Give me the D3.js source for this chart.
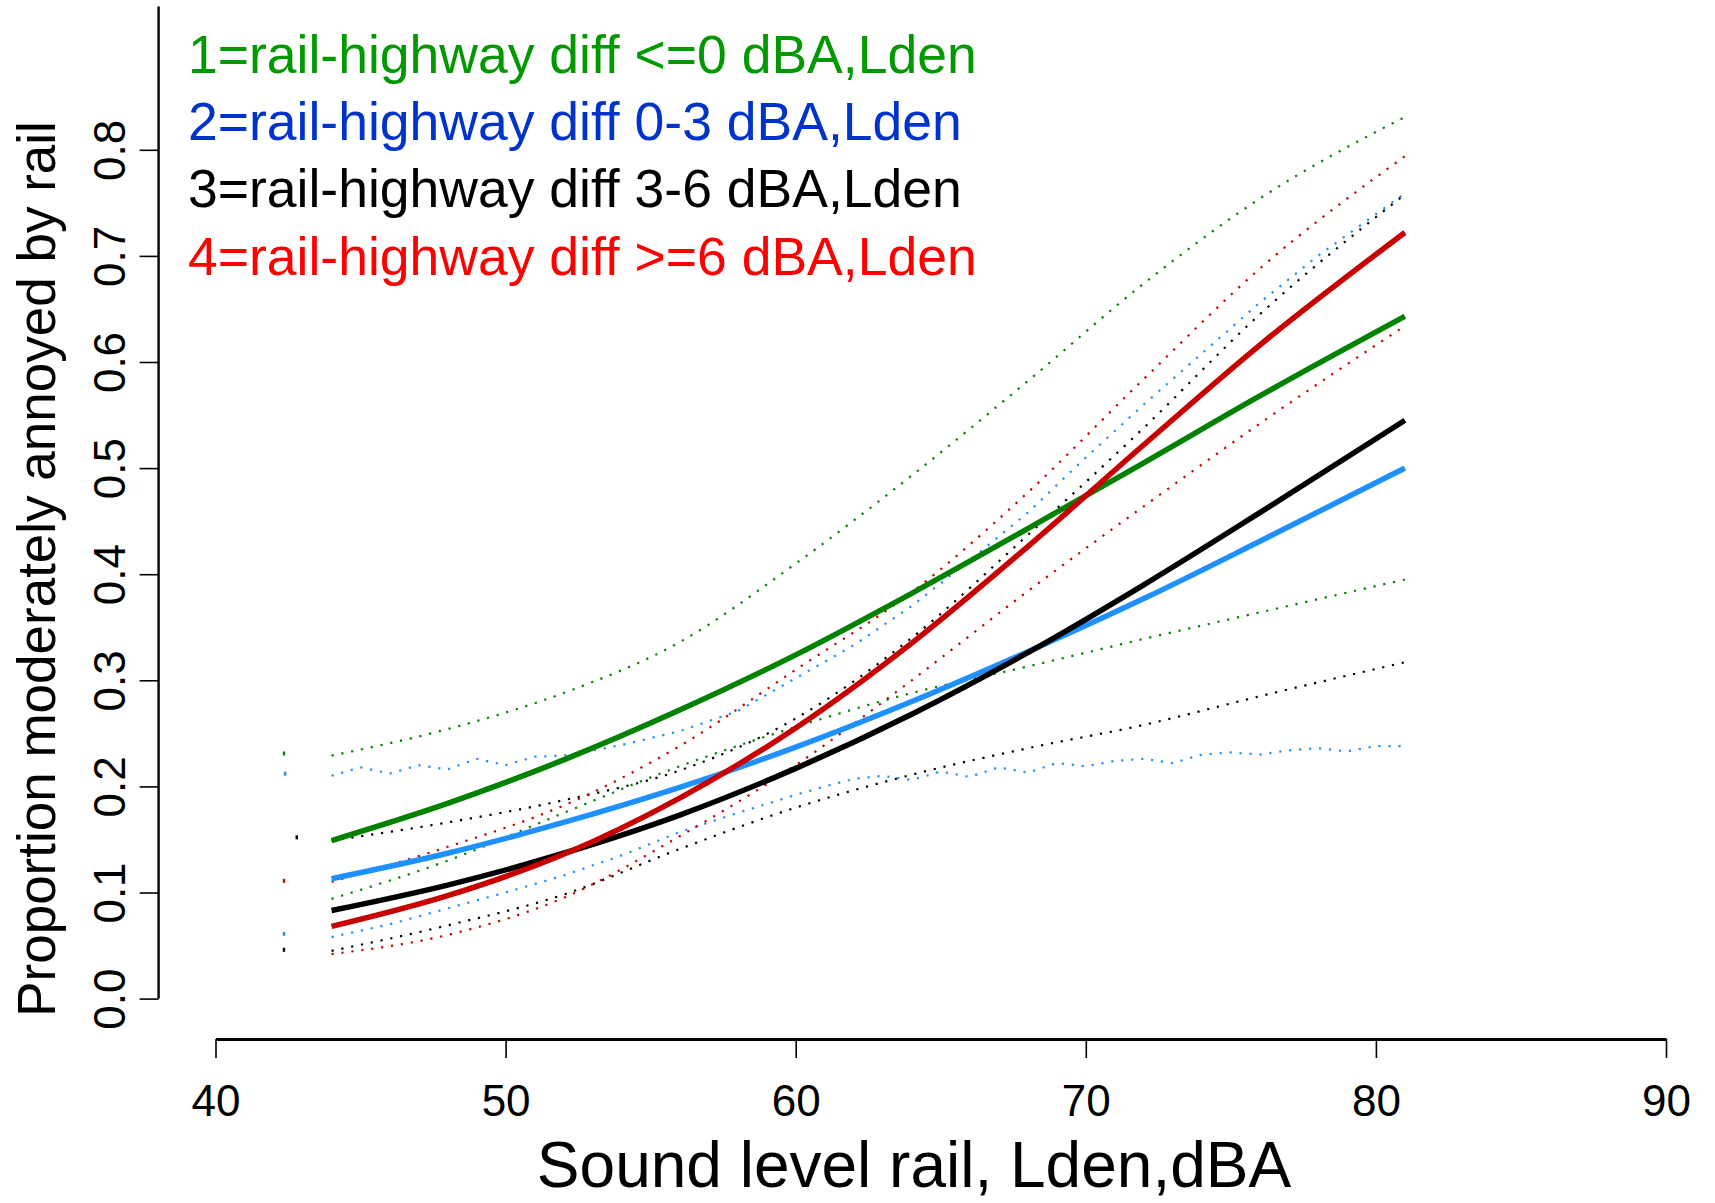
<!DOCTYPE html>
<html>
<head>
<meta charset="utf-8">
<script src="https://cdn.jsdelivr.net/npm/d3@7"></script>
<style>
body { margin: 0; background: #ffffff; }
svg { display: block; font-family: "Liberation Sans", Arial, Helvetica, sans-serif; }
</style>
</head>
<body>
<svg id="chart" width="1715" height="1203"></svg>
<script>
var levels = [44, 48, 52, 56, 60, 64, 68, 72, 76, 81];

// Fitted proportion moderately annoyed, one array per group
var fitGroup1 = [0.149, 0.184, 0.225, 0.272, 0.324, 0.382, 0.443, 0.505, 0.568, 0.643];
var fitGroup2 = [0.113, 0.137, 0.166, 0.199, 0.237, 0.280, 0.327, 0.377, 0.431, 0.500];
var fitGroup3 = [0.083, 0.107, 0.137, 0.173, 0.217, 0.268, 0.326, 0.390, 0.458, 0.545];
var fitGroup4 = [0.068, 0.097, 0.136, 0.189, 0.255, 0.335, 0.426, 0.522, 0.616, 0.722];

// Confidence limits (dotted) read at the same levels
var upperGroup1 = [0.229, 0.254, 0.288, 0.336, 0.410, 0.493, 0.582, 0.674, 0.754, 0.831];
var lowerGroup1 = [0.094, 0.130, 0.175, 0.219, 0.256, 0.288, 0.313, 0.339, 0.364, 0.395];
var upperGroup3 = [0.149, 0.166, 0.187, 0.215, 0.264, 0.340, 0.437, 0.538, 0.645, 0.758];
var lowerGroup3 = [0.045, 0.069, 0.098, 0.141, 0.180, 0.211, 0.236, 0.258, 0.285, 0.317];
var upperGroup4 = [0.110, 0.143, 0.182, 0.238, 0.310, 0.383, 0.477, 0.584, 0.688, 0.794];
var lowerGroup4 = [0.042, 0.060, 0.095, 0.153, 0.220, 0.300, 0.384, 0.464, 0.542, 0.634];

// Group 2 limits are ragged, so they are read on their own finer grid
var upperGroup2Levels = [44, 45, 46, 47, 48, 49, 50, 51, 52, 53, 54, 56, 58, 60, 62, 64, 66, 68, 70, 72, 74, 76, 78, 81];
var upperGroup2 = [0.210, 0.218, 0.212, 0.220, 0.216, 0.226, 0.220, 0.228, 0.229, 0.234, 0.239, 0.252, 0.271, 0.302, 0.333, 0.370, 0.413, 0.458, 0.510, 0.560, 0.608, 0.656, 0.700, 0.759];
var lowerGroup2Levels = [44, 46, 48, 50, 52, 54, 56, 58, 60, 61, 62, 63, 64, 65, 66, 67, 68, 69, 70, 71, 72, 73, 74, 75, 76, 77, 78, 79, 80, 81];
var lowerGroup2 = [0.058, 0.070, 0.085, 0.100, 0.116, 0.135, 0.157, 0.175, 0.192, 0.200, 0.207, 0.210, 0.206, 0.214, 0.209, 0.218, 0.213, 0.222, 0.219, 0.224, 0.226, 0.222, 0.230, 0.232, 0.230, 0.234, 0.236, 0.233, 0.238, 0.238];

// Lone dots left of the curves (start of the dotted limits)
var strayLevels = [42.36, 42.4, 42.8, 42.36, 42.36, 42.36];
var strayValues = [0.231, 0.212, 0.152, 0.111, 0.061, 0.046];
var strayGroups = [1, 2, 3, 4, 2, 3];

var legendLabels = [
    "1=rail-highway diff <=0 dBA,Lden",
    "2=rail-highway diff 0-3 dBA,Lden",
    "3=rail-highway diff 3-6 dBA,Lden",
    "4=rail-highway diff >=6 dBA,Lden"
];

var xTicks = [40, 50, 60, 70, 80, 90];
var yTicks = [0, 0.1, 0.2, 0.3, 0.4, 0.5, 0.6, 0.7, 0.8];

// Colours: curves, and the legend text
var curveColours = { 1: "#008200", 2: "#1e90ff", 3: "#000000", 4: "#c80000" };
var legendColours = ["#009900", "#0033cc", "#000000", "#ff0000"];

var svg = d3.select("#chart");
svg.append("rect").attr("width", 1715).attr("height", 1203).attr("fill", "#ffffff");

// Scales
var x = d3.scaleLinear().domain([40, 90]).range([215.5, 1666]);
var y = d3.scaleLinear().domain([0, 0.8]).range([998.6, 149.8]);

// Build {x, y} points from a pair of arrays
function pairUp(xs, ys)
{
    var pts = [];
    for (var i = 0; i < xs.length; ++i)
    {
        pts.push({ x: xs[i], y: ys[i] });
    }
    return pts;
}

var smoothLine = d3.line()
    .x(function(d) { return x(d.x); })
    .y(function(d) { return y(d.y); })
    .curve(d3.curveMonotoneX);

var roughLine = d3.line()
    .x(function(d) { return x(d.x); })
    .y(function(d) { return y(d.y); });

// Dotted confidence limits
var bands = [
    { g: 1, pts: pairUp(levels, upperGroup1), gen: smoothLine },
    { g: 1, pts: pairUp(levels, lowerGroup1), gen: smoothLine },
    { g: 2, pts: pairUp(upperGroup2Levels, upperGroup2), gen: roughLine },
    { g: 2, pts: pairUp(lowerGroup2Levels, lowerGroup2), gen: roughLine },
    { g: 3, pts: pairUp(levels, upperGroup3), gen: smoothLine },
    { g: 3, pts: pairUp(levels, lowerGroup3), gen: smoothLine },
    { g: 4, pts: pairUp(levels, upperGroup4), gen: smoothLine },
    { g: 4, pts: pairUp(levels, lowerGroup4), gen: smoothLine }
];

var bandLayer = svg.append("g");
bands.forEach(function(b)
{
    bandLayer.append("path")
        .attr("d", b.gen(b.pts))
        .attr("fill", "none")
        .attr("stroke", curveColours[b.g])
        .attr("stroke-width", 2.2)
        .attr("stroke-dasharray", "2.2,7.8");
});

// Lone start dots
bandLayer.selectAll("rect.stray")
    .data(d3.range(strayLevels.length))
    .enter().append("rect")
    .attr("class", "stray")
    .attr("x", function(i) { return x(strayLevels[i]) - 1.2; })
    .attr("y", function(i) { return y(strayValues[i]) - 2; })
    .attr("width", 2.4)
    .attr("height", 4)
    .attr("fill", function(i) { return curveColours[strayGroups[i]]; });

// Fitted curves
var fits = [
    { g: 1, vals: fitGroup1 },
    { g: 2, vals: fitGroup2 },
    { g: 3, vals: fitGroup3 },
    { g: 4, vals: fitGroup4 }
];
var fitLayer = svg.append("g");
fits.forEach(function(f)
{
    fitLayer.append("path")
        .attr("d", smoothLine(pairUp(levels, f.vals)))
        .attr("fill", "none")
        .attr("stroke", curveColours[f.g])
        .attr("stroke-width", 5.5)
        .attr("stroke-linecap", "butt");
});

// X axis
var xAxisY = 1039;
var gx = svg.append("g")
    .attr("transform", "translate(0," + xAxisY + ")")
    .call(d3.axisBottom(x).tickValues(xTicks).tickSize(19).tickSizeOuter(0)
        .tickFormat(d3.format("d")));
gx.select(".domain").attr("stroke-width", 2.8);
gx.selectAll(".tick line").attr("stroke-width", 1.6);
gx.selectAll(".tick text")
    .attr("y", 77)
    .attr("dy", null)
    .attr("font-size", 44)
    .attr("font-family", null)
    .attr("fill", "#000");

// Y axis; the line runs on above the last labelled tick
var yAxisTop = 0.935;
var gy = svg.append("g")
    .attr("transform", "translate(158.6,0)")
    .call(d3.axisLeft(y).tickValues(yTicks).tickSize(19).tickSizeOuter(0)
        .tickFormat(d3.format(".1f")));
gy.select(".domain")
    .attr("d", "M0," + y(yAxisTop) + "V" + y(0))
    .attr("stroke-width", 2.4);
gy.selectAll(".tick line").attr("stroke-width", 1.6);
gy.selectAll(".tick text")
    .attr("x", 0)
    .attr("y", -33.6)
    .attr("dy", null)
    .attr("transform", "rotate(-90)")
    .attr("text-anchor", "middle")
    .attr("font-size", 44)
    .attr("font-family", null)
    .attr("fill", "#000");

// Axis titles
svg.append("text")
    .attr("x", 914)
    .attr("y", 1187)
    .attr("text-anchor", "middle")
    .attr("font-size", 64)
    .attr("fill", "#000")
    .text("Sound level rail, Lden,dBA");

svg.append("text")
    .attr("transform", "translate(55,569) rotate(-90)")
    .attr("text-anchor", "middle")
    .attr("font-size", 53)
    .attr("fill", "#000")
    .text("Proportion moderately annoyed by rail");

// Legend text in the upper left
var legendBaselines = [73, 140, 207, 275];
svg.append("g").selectAll("text")
    .data(legendLabels)
    .enter().append("text")
    .attr("x", 188)
    .attr("y", function(d, i) { return legendBaselines[i]; })
    .attr("font-size", 53.5)
    .attr("fill", function(d, i) { return legendColours[i]; })
    .text(function(d) { return d; });
</script>
</body>
</html>
